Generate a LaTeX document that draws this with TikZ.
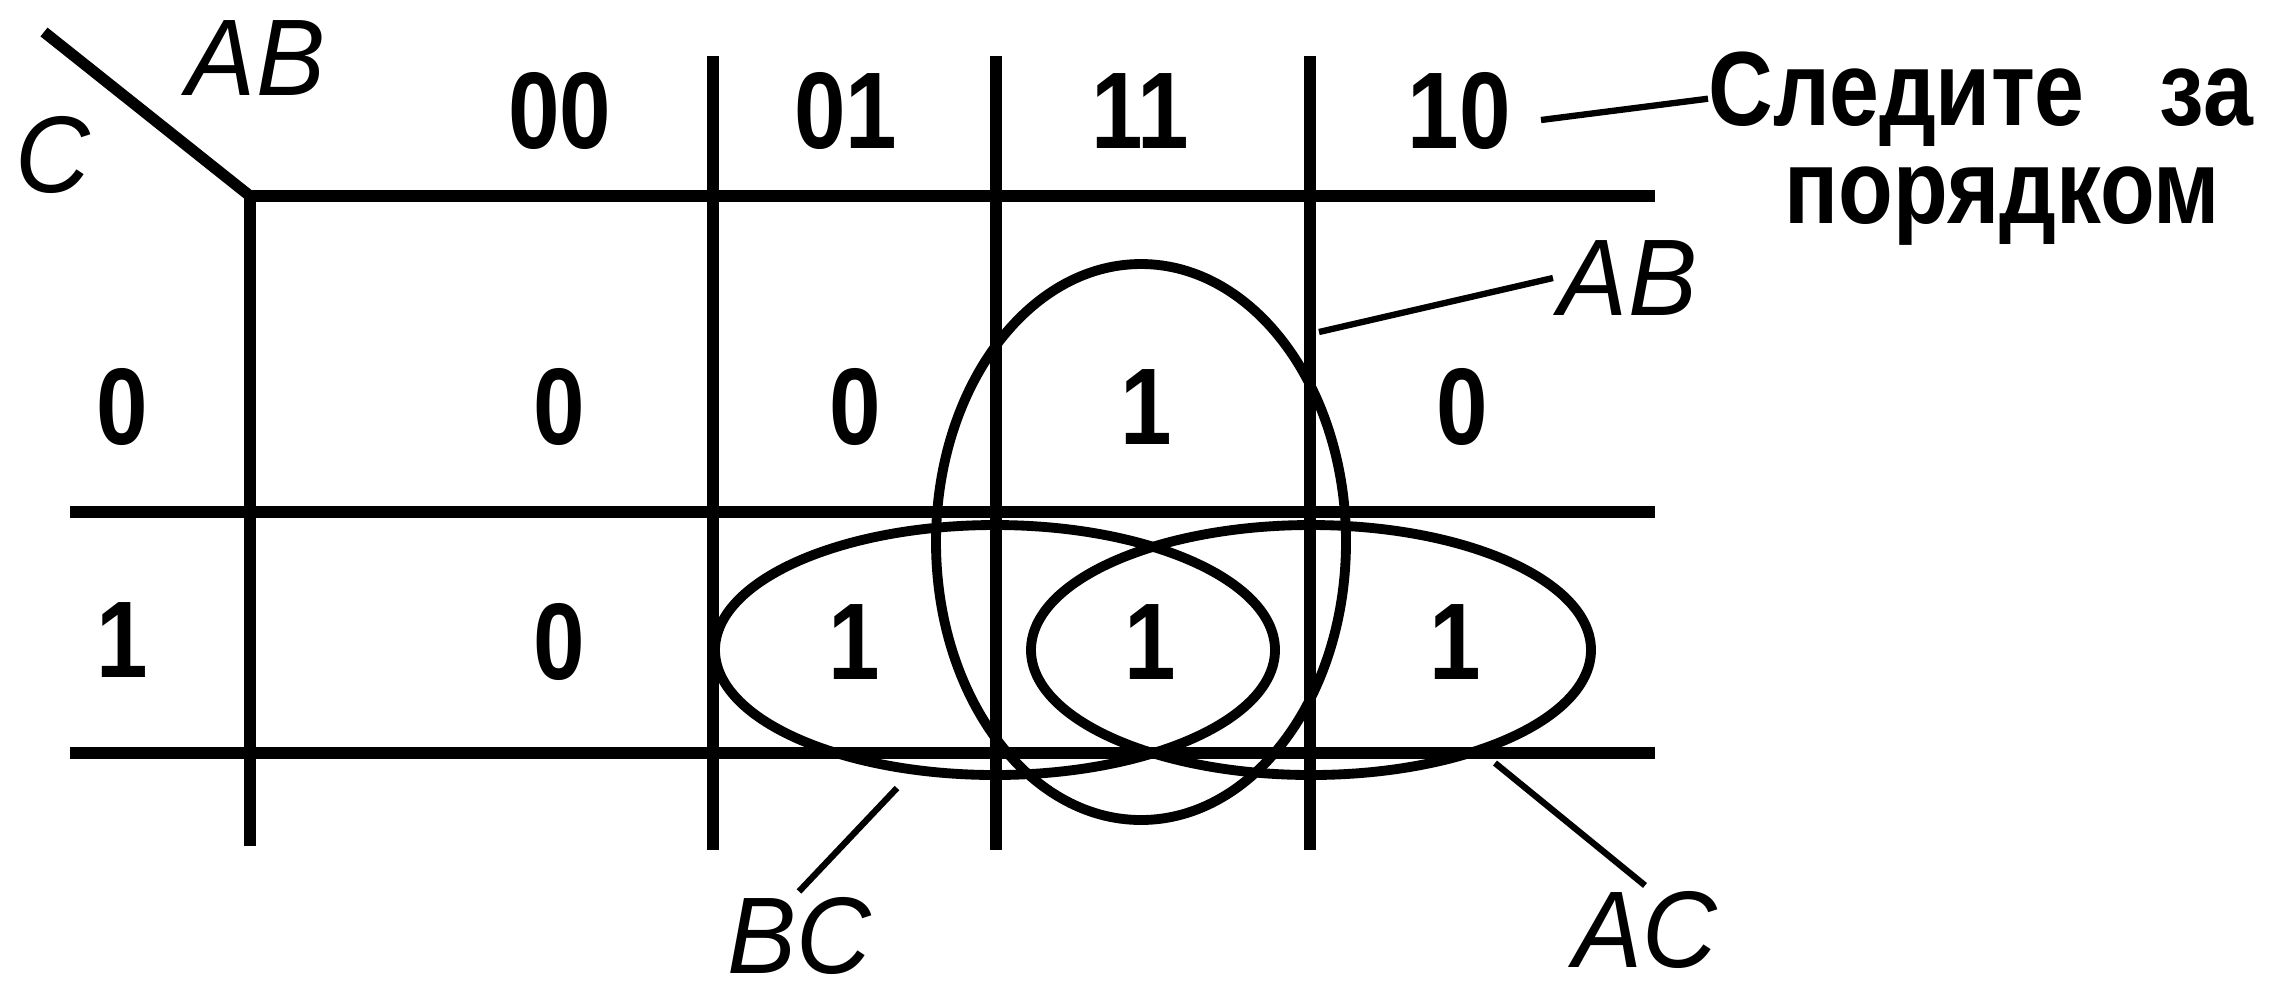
\documentclass[tikz,border=0pt]{standalone}
\usepackage{fontspec}
\setmainfont{Liberation Sans}[FakeStretch=0.85]
\newfontfamily\varfont{Liberation Sans}[FakeStretch=0.95]
\usetikzlibrary{calc}

\begin{document}
\begin{tikzpicture}[
    kline/.style={line width=3.2pt},
    kgroup/.style={line width=2.8pt},
    leader/.style={line width=1.8pt},
    cellnum/.style={inner sep=0pt, font=\bfseries\fontsize{31}{36}\selectfont},
    varlab/.style={inner sep=0pt, outer sep=0.06cm, font=\varfont\itshape\fontsize{31}{36}\selectfont},
    note/.style={inner sep=0pt, anchor=base west, font=\bfseries\fontsize{30}{36}\selectfont}
]

    % Page size (same proportions as the drawing)
    \useasboundingbox (0,0) rectangle (22.8,-9.86);

    % Define Map Corner and Diagonal Start
    \coordinate (K) at (2.50,-1.96);
    \coordinate (D) at (0.44,-0.32);

    % Draw Map Lines
    % 1. Diagonal and the two main axes
    \draw[kline] (D) -- (K);
    \draw[kline] (K) -- (16.55,-1.96);
    \draw[kline] (K) -- (2.50,-8.46);

    % 2. Row separators
    \draw[kline] (0.70,-5.12) -- (16.55,-5.12);
    \draw[kline] (0.70,-7.53) -- (16.55,-7.53);

    % 3. Column separators
    \draw[kline] (7.13,-0.56) -- (7.13,-8.50);
    \draw[kline] (9.96,-0.56) -- (9.96,-8.50);
    \draw[kline] (13.10,-0.56) -- (13.10,-8.50);

    % --- Variable Names ---
    \node[varlab] (ABtop) at (2.56,-0.58) {AB};
    \node[varlab] (Cleft) at (0.53,-1.55) {C};

    % --- Column and Row Codes ---
    \node[cellnum] (h00) at (5.60,-1.11) {00};
    \node[cellnum] (h01) at (8.46,-1.11) {01};
    \node[cellnum] (h11) at (11.40,-1.11) {11};
    \node[cellnum] (h10) at (14.59,-1.11) {10};
    \node[cellnum] (r0) at (1.22,-4.07) {0};
    \node[cellnum] (r1) at (1.22,-6.40) {1};

    % --- Cell Values ---
    % Row C = 0
    \node[cellnum] (v000) at (5.59,-4.07) {0};
    \node[cellnum] (v010) at (8.55,-4.07) {0};
    \node[cellnum] (v110) at (11.46,-4.07) {1};
    \node[cellnum] (v100) at (14.62,-4.07) {0};
    % Row C = 1
    \node[cellnum] (v001) at (5.59,-6.42) {0};
    \node[cellnum] (v011) at (8.54,-6.42) {1};
    \node[cellnum] (v111) at (11.50,-6.42) {1};
    \node[cellnum] (v101) at (14.55,-6.42) {1};

    % --- Groups (ellipses round the ones) ---
    \coordinate (gAB) at (11.41,-5.42);
    \coordinate (gBC) at (9.95,-6.50);
    \coordinate (gAC) at (13.11,-6.50);
    \draw[kgroup] (gAB) ellipse [x radius=2.05, y radius=2.78];
    \draw[kgroup] (gBC) ellipse [x radius=2.80, y radius=1.25];
    \draw[kgroup] (gAC) ellipse [x radius=2.80, y radius=1.25];

    % --- Group Labels and Leaders ---
    \node[varlab] (ABright) at (16.28,-2.78) {AB};
    \node[varlab] (BClab) at (7.99,-9.36) {BC};
    \node[varlab] (AClab) at (16.45,-9.30) {AC};
    \coordinate (tAB) at (13.19,-3.32);
    \coordinate (tBC) at (8.97,-7.88);
    \coordinate (tAC) at (14.95,-7.63);
    \draw[leader] (tAB) -- (ABright.west);
    \draw[leader] (tBC) -- (BClab.north);
    \draw[leader] (tAC) -- (AClab.north);

    % --- Note on the Gray code order ---
    \node[note] (note1) at (17.08,-1.25) {Следите\hspace{0.75cm}за};
    \node[note] (note2) at (17.84,-2.23) {порядком};
    \coordinate (t10) at (15.41,-1.20);
    \draw[leader] (t10) -- (note1.west);

\end{tikzpicture}
\end{document}
